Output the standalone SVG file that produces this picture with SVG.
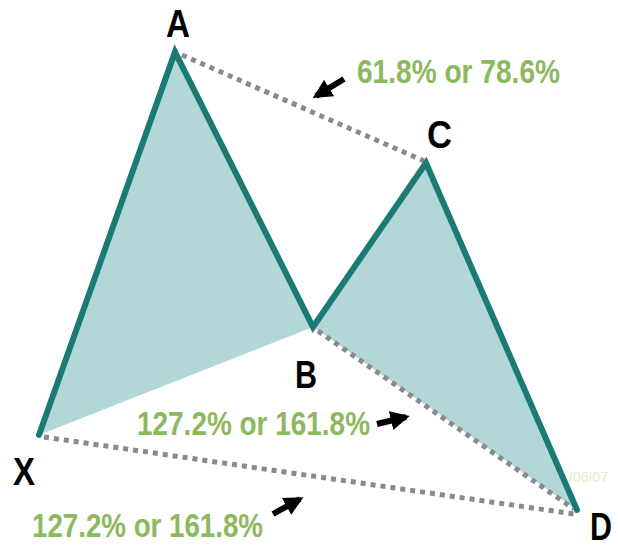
<svg xmlns="http://www.w3.org/2000/svg" width="618" height="548" viewBox="0 0 618 548">
<defs>
<style>
.fill{fill:#b3d6d6;stroke:none}
.leg{fill:none;stroke:#1b7a76;stroke-width:6;stroke-linejoin:miter;stroke-linecap:round}
.dot{fill:none;stroke:#8a8a8a;stroke-width:5;stroke-dasharray:5 5}
.pt{font-family:"Liberation Sans",Arial,sans-serif;font-weight:bold;font-size:38px;fill:#000}
.lbl{font-family:"Liberation Sans",Arial,sans-serif;font-weight:bold;font-size:33px;fill:#8cb85e}
.wm{font-family:"Liberation Sans",Arial,sans-serif;font-size:14px;fill:#e3eacb}
.arw{stroke:#000;stroke-width:6;marker-end:url(#ah)}
</style>
<marker id="ah" viewBox="0 0 10 10" refX="8" refY="5" markerWidth="3.2" markerHeight="3.2" orient="auto" markerUnits="strokeWidth">
<path d="M0,0 L10,5 L0,10 z" fill="#000"/>
</marker>
</defs>
<rect width="618" height="548" fill="#fff"/>
<g id="fills">
<polygon class="fill" points="39,435 175,52 313,327"/>
<polygon class="fill" points="313,327 426,163 577,510"/>
</g>
<text class="wm" x="569" y="482">/06/07</text>
<g id="connectors">
<line class="dot" x1="182" y1="55" x2="424" y2="161"/>
<line class="dot" x1="318" y1="331" x2="574" y2="509"/>
<line class="dot" x1="44" y1="437" x2="574" y2="514"/>
<polyline class="leg" points="39,435 175,52 313,327 426,163 577,510"/>
<line class="arw" x1="344" y1="79" x2="316" y2="96"/>
<line class="arw" x1="377" y1="424" x2="406" y2="417"/>
<line class="arw" x1="273" y1="514" x2="300" y2="499"/>
</g>
<g id="A"><text class="pt" x="166" y="37" textLength="24" lengthAdjust="spacingAndGlyphs">A</text></g>
<g id="C"><text class="pt" x="427" y="148" textLength="25" lengthAdjust="spacingAndGlyphs">C</text></g>
<g id="B"><text class="pt" x="295" y="388" textLength="22" lengthAdjust="spacingAndGlyphs">B</text></g>
<g id="X"><text class="pt" x="13" y="485" textLength="22" lengthAdjust="spacingAndGlyphs">X</text></g>
<g id="D"><text class="pt" x="590" y="540" font-size="36" textLength="22" lengthAdjust="spacingAndGlyphs">D</text></g>
<g id="labels">
<text class="lbl" x="357" y="83" textLength="203" lengthAdjust="spacingAndGlyphs">61.8% or 78.6%</text>
<text class="lbl" x="137" y="435" textLength="233" lengthAdjust="spacingAndGlyphs">127.2% or 161.8%</text>
<text class="lbl" x="32" y="537" textLength="231" lengthAdjust="spacingAndGlyphs">127.2% or 161.8%</text>
</g>
</svg>
